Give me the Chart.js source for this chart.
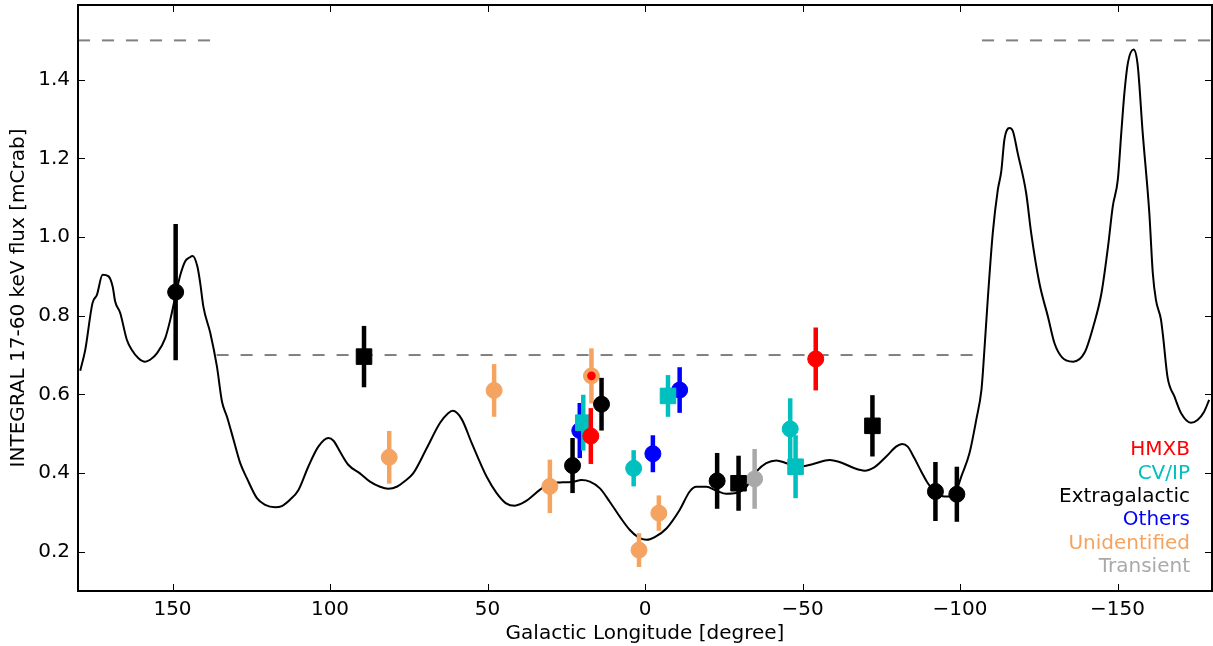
<!DOCTYPE html>
<html>
<head>
<meta charset="utf-8">
<script src="https://cdn.jsdelivr.net/npm/chart.js@4.4.1/dist/chart.umd.min.js"></script>
<style>
  html, body { margin: 0; padding: 0; background: #fff; }
  #wrap { width: 1213px; height: 646px; }
</style>
</head>
<body>
<div id="wrap"><canvas id="chart-1"></canvas></div>
<script>
// source classes and their colours
const categories = ['HMXB', 'CV/IP', 'Extragalactic', 'Others', 'Unidentified', 'Transient'];
const categoryColors = ['#ff0000', '#00bfbf', '#000000', '#0000ff', '#f4a460', '#a9a9a9'];

const xTicks = [150, 100, 50, 0, -50, -100, -150];
const yTicks = [0.2, 0.4, 0.6, 0.8, 1.0, 1.2, 1.4];

// sensitivity curve along the plane
const curveLon = [179.3, 177.7, 175.4, 174.0, 172.2, 170.3, 169.0, 168.2, 166.6, 164.5, 162.9, 160.8, 158.7, 157.1, 154.9,
  152.3, 150.7, 149.1, 147.5, 146.0, 144.6, 143.6, 142.1, 141.2, 140.2, 138.0, 135.9, 134.3, 132.7, 130.6, 128.5,
  126.4, 123.2, 120.6, 117.4, 115.3, 112.7, 110.0, 106.9, 103.7, 100.5, 98.9, 96.8, 94.2, 90.5, 87.3, 84.1, 81.5,
  78.8, 76.5, 73.6, 69.3, 65.1, 62.5, 61.0, 58.2, 55.0, 50.3, 47.1, 44.1, 41.3, 38.1, 33.4, 30.2, 27.0, 22.8, 20.2,
  17.5, 14.3, 11.2, 8.0, 4.8, 2.2, -0.4, -3.1, -6.8, -11.0, -14.2, -16.3, -19.5, -22.7, -25.8, -29.0, -32.2, -35.4,
  -38.5, -41.7, -44.9, -49.1, -53.4, -58.6, -62.8, -66.5, -69.7, -72.9, -76.6, -79.7, -81.6, -83.4, -85.5, -87.7,
  -89.8, -92.4, -95.1, -97.2, -99.3, -100.4, -103.0, -105.2, -106.8, -107.3, -108.8, -110.4, -112.0, -113.1, -114.1,
  -115.7, -116.8, -118.3, -121.0, -122.6, -125.2, -128.0, -130.0, -132.4, -135.9, -139.6, -142.4, -144.9, -147.0,
  -148.5, -150.1, -151.2, -152.2, -153.3, -155.1, -156.4, -158.0, -160.1, -161.2, -162.2, -163.8, -164.5, -165.9,
  -168.1, -170.2, -173.3, -175.4, -177.5, -179.1];
const curveFlux = [0.660, 0.713, 0.832, 0.853, 0.904, 0.900, 0.874, 0.836, 0.807, 0.739, 0.713, 0.692, 0.683, 0.688, 0.705,
  0.743, 0.790, 0.849, 0.904, 0.938, 0.948, 0.952, 0.925, 0.883, 0.823, 0.756, 0.671, 0.582, 0.543, 0.484, 0.425,
  0.387, 0.336, 0.319, 0.313, 0.316, 0.332, 0.357, 0.416, 0.467, 0.489, 0.482, 0.454, 0.421, 0.399, 0.378, 0.365, 0.360,
  0.365, 0.378, 0.399, 0.463, 0.527, 0.552, 0.558, 0.537, 0.476, 0.391, 0.349, 0.323, 0.317, 0.327, 0.357, 0.374, 0.376, 0.378, 0.382,
  0.378, 0.361, 0.327, 0.289, 0.255, 0.237, 0.230, 0.237, 0.259, 0.306, 0.353, 0.365, 0.365, 0.355, 0.347, 0.349, 0.365, 0.404,
  0.425, 0.432, 0.425, 0.416, 0.423, 0.433, 0.425, 0.412, 0.406, 0.415, 0.442, 0.467, 0.474, 0.467, 0.438, 0.404,
  0.374, 0.349, 0.340, 0.342, 0.365, 0.391, 0.450, 0.537, 0.611, 0.660, 0.840, 1.010, 1.120, 1.167, 1.248,
  1.277, 1.269, 1.214, 1.112, 1.010, 0.883, 0.795, 0.730, 0.694, 0.683, 0.707, 0.775, 0.857, 0.976,
  1.078, 1.146, 1.265, 1.367, 1.443, 1.477, 1.438, 1.265, 1.061, 0.909, 0.840, 0.790, 0.745, 0.643,
  0.594, 0.552, 0.528, 0.535, 0.556, 0.586];

// dashed limit levels between longitude edges
const limitEdges = [180, 136, -107, -180];
const limitLevels = [1.5, 0.7, 1.5];

// detected sources
const srcLon  = [149.0, 89.2, 81.2, 47.9, 30.2, 23.0, 20.7, 19.6, 17.2, 17.0, 13.8, 3.6, 1.9, -2.5, -4.4, -7.3, -11.0,
  -22.9, -29.7, -34.8, -46.1, -47.8, -54.2, -72.2, -92.2, -99.0];
const srcFlux = [0.860, 0.696, 0.440, 0.610, 0.366, 0.419, 0.508, 0.528, 0.494, 0.647, 0.575, 0.412, 0.204, 0.449, 0.298, 0.596, 0.611,
  0.380, 0.374, 0.385, 0.512, 0.416, 0.690, 0.520, 0.353, 0.346];
const srcErr  = [0.173, 0.078, 0.067, 0.067, 0.068, 0.070, 0.070, 0.071, 0.071, 0.070, 0.067, 0.046, 0.043, 0.047, 0.045, 0.053, 0.058,
  0.071, 0.070, 0.076, 0.078, 0.080, 0.080, 0.078, 0.075, 0.070];
const srcClass = ['Extragalactic', 'Extragalactic', 'Unidentified', 'Unidentified', 'Unidentified', 'Extragalactic', 'Others',
  'CV/IP', 'HMXB', 'Unidentified', 'Extragalactic', 'CV/IP', 'Unidentified', 'Others', 'Unidentified', 'CV/IP', 'Others',
  'Extragalactic', 'Extragalactic', 'Transient', 'CV/IP', 'CV/IP', 'HMXB', 'Extragalactic', 'Extragalactic', 'Extragalactic'];
const srcSquare = [0, 1, 0, 0, 0, 0, 0, 1, 0, 0, 0, 0, 0, 0, 0, 1, 0, 0, 1, 0, 0, 1, 0, 1, 0, 0];

// small HMXB dot sitting on the unidentified source
const dotLon = [17.0];
const dotFlux = [0.647];

const FONT = 'DejaVu Sans';
const drawOrder = { 'HMXB': 2, 'CV/IP': 3, 'Extragalactic': 1, 'Others': 4, 'Unidentified': 5, 'Transient': 1 };

const datasets = [];
categories.forEach((name, c) => {
  [0, 1].forEach(sq => {
    const pts = [];
    srcLon.forEach((l, i) => {
      if (srcClass[i] === name && srcSquare[i] === sq) pts.push({ x: l, y: srcFlux[i], err: srcErr[i] });
    });
    if (!pts.length) return;
    datasets.push({
      label: name,
      data: pts,
      errorBars: true,
      showLine: false,
      pointStyle: sq ? 'rect' : 'circle',
      pointRadius: sq ? 11 : 8,
      pointBorderWidth: 1,
      backgroundColor: categoryColors[c],
      borderColor: categoryColors[c],
      order: drawOrder[name]
    });
  });
});

datasets.push({
  label: 'dot',
  data: dotLon.map((l, i) => ({ x: l, y: dotFlux[i] })),
  pointRadius: 4.3,
  pointBorderWidth: 0,
  backgroundColor: categoryColors[0],
  borderColor: categoryColors[0],
  order: 0
});

datasets.push({
  label: 'curve',
  data: curveLon.map((l, i) => ({ x: l, y: curveFlux[i] })),
  showLine: true,
  pointRadius: 0,
  borderColor: '#000',
  borderWidth: 2,
  cubicInterpolationMode: 'monotone',
  order: 10
});

limitLevels.forEach((lv, i) => {
  datasets.push({
    label: 'limit',
    data: [{ x: limitEdges[i], y: lv }, { x: limitEdges[i + 1], y: lv }],
    showLine: true,
    pointRadius: 0,
    borderColor: '#808080',
    borderWidth: 2,
    borderDash: [12, 12],
    order: 11
  });
});

// error bars go right under their own markers
const errorBars = {
  id: 'errorBars',
  beforeDatasetDraw(chart, args) {
    const ds = chart.data.datasets[args.index];
    if (!ds.errorBars) return;
    const ctx = chart.ctx, xs = chart.scales.x, ys = chart.scales.y;
    ctx.save();
    ctx.strokeStyle = ds.borderColor;
    ctx.lineWidth = 4.5;
    ds.data.forEach(p => {
      const px = xs.getPixelForValue(p.x);
      ctx.beginPath();
      ctx.moveTo(px, ys.getPixelForValue(p.y - p.err));
      ctx.lineTo(px, ys.getPixelForValue(p.y + p.err));
      ctx.stroke();
    });
    ctx.restore();
  }
};

// box with inward ticks on all sides, and the text-only legend
const frame = {
  id: 'frame',
  afterDatasetsDraw(chart) {
    const ctx = chart.ctx, a = chart.chartArea, xs = chart.scales.x, ys = chart.scales.y;
    ctx.save();
    ctx.strokeStyle = '#000';
    ctx.lineWidth = 1;
    ctx.beginPath();
    xTicks.forEach(v => {
      const px = Math.round(xs.getPixelForValue(v)) + 0.5;
      ctx.moveTo(px, a.bottom); ctx.lineTo(px, a.bottom - 7);
      ctx.moveTo(px, a.top); ctx.lineTo(px, a.top + 7);
    });
    yTicks.forEach(v => {
      const py = Math.round(ys.getPixelForValue(v)) + 0.5;
      ctx.moveTo(a.left, py); ctx.lineTo(a.left + 7, py);
      ctx.moveTo(a.right, py); ctx.lineTo(a.right - 7, py);
    });
    ctx.stroke();
    ctx.lineWidth = 2;
    ctx.strokeRect(a.left, a.top, a.right - a.left, a.bottom - a.top);

    ctx.font = '20px "' + FONT + '"';
    ctx.textAlign = 'right';
    ctx.textBaseline = 'middle';
    categories.forEach((name, i) => {
      ctx.fillStyle = categoryColors[i];
      ctx.fillText(name, a.right - 22, a.bottom - 24 - (categories.length - 1 - i) * 23.4);
    });
    ctx.restore();
  }
};

new Chart(document.getElementById('chart-1'), {
  type: 'scatter',
  data: { datasets: datasets },
  plugins: [errorBars, frame],
  options: {
    responsive: true,
    maintainAspectRatio: false,
    animation: false,
    devicePixelRatio: 1,
    layout: { autoPadding: false, padding: { top: 5, right: 1, left: 0, bottom: 0 } },
    plugins: { legend: { display: false }, tooltip: { enabled: false } },
    scales: {
      x: {
        type: 'linear',
        reverse: true,
        min: -180,
        max: 180,
        afterBuildTicks: s => { s.ticks = xTicks.map(v => ({ value: v })); },
        afterFit: s => { s.height = 55; s.paddingLeft = 0; s.paddingRight = 0; },
        grid: { display: false, drawTicks: false },
        border: { display: false },
        ticks: {
          color: '#000',
          font: { family: FONT, size: 20 },
          padding: 7,
          maxRotation: 0,
          autoSkip: false,
          callback: v => String(v).replace('-', '\u2212')
        },
        title: {
          display: true,
          text: 'Galactic Longitude [degree]',
          color: '#000',
          font: { family: FONT, size: 20 },
          padding: 0
        }
      },
      y: {
        type: 'linear',
        min: 0.1,
        max: 1.59,
        afterBuildTicks: s => { s.ticks = yTicks.map(v => ({ value: v })); },
        afterFit: s => { s.width = 78; s.paddingTop = 0; s.paddingBottom = 0; },
        grid: { display: false, drawTicks: false },
        border: { display: false },
        ticks: {
          color: '#000',
          font: { family: FONT, size: 20 },
          padding: 8,
          callback: v => v.toFixed(1)
        },
        title: {
          display: true,
          text: 'INTEGRAL 17-60 keV flux [mCrab]',
          color: '#000',
          font: { family: FONT, size: 20 },
          padding: { top: 7, bottom: 0 }
        }
      }
    }
  }
});
</script>
</body>
</html>
